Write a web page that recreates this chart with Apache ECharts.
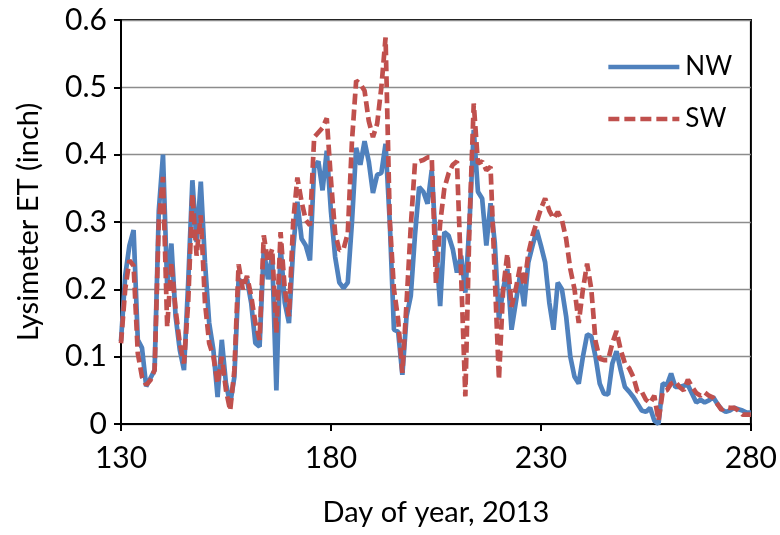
<!DOCTYPE html>
<html>
<head>
<meta charset="utf-8">
<script src="https://cdn.jsdelivr.net/npm/echarts@6/dist/echarts.min.js"></script>
<style>html,body{margin:0;padding:0;background:#fff}#c{width:780px;height:535px}</style>
</head>
<body>
<div id="c"></div>
<script>
const firstDay = 130;
const xTicks = [130, 180, 230, 280];
const yTicks = [0, 0.1, 0.2, 0.3, 0.4, 0.5, 0.6];
const seriesNames = ['NW', 'SW'];
// Daily lysimeter ET, day 130 .. 280
const nw = [
0.123,0.22,0.265,0.288,0.125,0.113,0.056,0.068,0.08,0.317,
0.40,0.204,0.268,0.16,0.11,0.08,0.21,0.362,0.27,0.36,
0.24,0.15,0.11,0.04,0.125,0.06,0.03,0.07,0.215,0.21,
0.215,0.18,0.12,0.115,0.26,0.215,0.25,0.05,0.265,0.18,
0.15,0.26,0.33,0.275,0.265,0.243,0.381,0.39,0.347,0.406,
0.315,0.248,0.21,0.202,0.21,0.30,0.41,0.385,0.42,0.39,
0.343,0.37,0.373,0.416,0.3,0.14,0.137,0.073,0.16,0.19,
0.28,0.352,0.345,0.327,0.377,0.265,0.175,0.285,0.28,0.26,
0.225,0.25,0.195,0.30,0.437,0.345,0.335,0.265,0.328,0.27,
0.155,0.2,0.23,0.14,0.18,0.22,0.175,0.24,0.265,0.288,
0.265,0.24,0.18,0.14,0.21,0.2,0.16,0.1,0.07,0.06,
0.1,0.133,0.13,0.1,0.06,0.045,0.044,0.09,0.108,0.08,
0.055,0.048,0.04,0.03,0.02,0.018,0.024,0.005,0.0,0.06,
0.058,0.075,0.055,0.055,0.057,0.058,0.045,0.032,0.036,0.032,
0.035,0.04,0.03,0.022,0.018,0.02,0.024,0.022,0.02,0.017,
0.017
];
const sw = [
0.12,0.2,0.243,0.235,0.105,0.07,0.058,0.065,0.08,0.30,
0.367,0.144,0.24,0.17,0.12,0.09,0.18,0.342,0.25,0.31,
0.18,0.12,0.1,0.06,0.1,0.05,0.02,0.08,0.237,0.2,
0.22,0.19,0.15,0.125,0.28,0.24,0.26,0.135,0.285,0.2,
0.16,0.3,0.366,0.33,0.303,0.295,0.426,0.433,0.44,0.454,
0.362,0.283,0.258,0.26,0.283,0.42,0.51,0.505,0.495,0.45,
0.426,0.446,0.5,0.574,0.303,0.2,0.155,0.076,0.18,0.293,
0.387,0.39,0.392,0.396,0.396,0.209,0.298,0.35,0.372,0.385,
0.39,0.22,0.041,0.3,0.476,0.387,0.39,0.377,0.382,0.22,
0.066,0.2,0.253,0.174,0.2,0.233,0.205,0.253,0.28,0.30,
0.32,0.335,0.317,0.305,0.315,0.303,0.275,0.23,0.2,0.15,
0.2,0.238,0.2,0.123,0.097,0.095,0.095,0.12,0.138,0.11,
0.09,0.083,0.07,0.048,0.048,0.036,0.031,0.042,0.005,0.048,
0.05,0.06,0.063,0.055,0.05,0.066,0.055,0.046,0.042,0.047,
0.042,0.039,0.03,0.021,0.025,0.024,0.024,0.02,0.014,0.014,
0.014
];
const toPairs = arr => arr.map((v, i) => [firstDay + i, v]);
const font = 'Lato, "Open Sans", sans-serif';
const chart = echarts.init(document.getElementById('c'), null, {renderer: 'canvas'});
chart.setOption({
  animation: false,
  backgroundColor: '#fff',
  grid: {left: 121, right: 29, top: 20, bottom: 111, show: true, borderColor: '#000', borderWidth: 2, backgroundColor: 'transparent'},
  legend: {
    data: seriesNames,
    orient: 'vertical',
    left: 601, top: 49,
    itemWidth: 71, itemHeight: 14, itemGap: 26,
    itemStyle: {opacity: 0, color: 'transparent', borderWidth: 0},
    lineStyle: {width: 4.7},
    textStyle: {fontFamily: font, fontSize: 26, color: '#000', padding: [0,0,0,1]}
  },
  xAxis: {
    type: 'value', min: xTicks[0], max: xTicks[xTicks.length-1], interval: 50,
    name: 'Day of year, 2013', nameLocation: 'middle', nameGap: 74,
    nameTextStyle: {fontFamily: font, fontSize: 29, color: '#000'},
    axisLine: {show: true, lineStyle: {color: '#000', width: 2}},
    axisTick: {show: true, inside: false, length: 7, lineStyle: {color: '#000', width: 2}},
    axisLabel: {fontFamily: font, fontSize: 30, color: '#000', margin: 19},
    splitLine: {show: false}
  },
  yAxis: {
    type: 'value', min: yTicks[0], max: yTicks[yTicks.length-1], interval: 0.1,
    name: 'Lysimeter ET (inch)', nameLocation: 'middle', nameGap: 78, nameRotate: 90,
    nameTextStyle: {fontFamily: font, fontSize: 29, color: '#000'},
    axisLine: {show: true, lineStyle: {color: '#000', width: 2}},
    axisTick: {show: true, inside: false, length: 7, lineStyle: {color: '#000', width: 2}},
    axisLabel: {fontFamily: font, fontSize: 30, color: '#000', margin: 14,
      formatter: v => (Math.round(v*10)/10).toString()},
    splitLine: {show: true, lineStyle: {color: '#8c8c8c', width: 1.3}}
  },
  series: [
    {name: seriesNames[0], type: 'line', data: toPairs(nw), symbol: 'none', z: 2,
     lineStyle: {color: '#4F81BD', width: 4.7}, itemStyle: {color: '#4F81BD'}},
    {name: seriesNames[1], type: 'line', data: toPairs(sw), symbol: 'none', z: 3,
     lineStyle: {color: '#C0504D', width: 4.7, type: [11, 5]}, itemStyle: {color: '#C0504D'}}
  ]
});
</script>
</body>
</html>
